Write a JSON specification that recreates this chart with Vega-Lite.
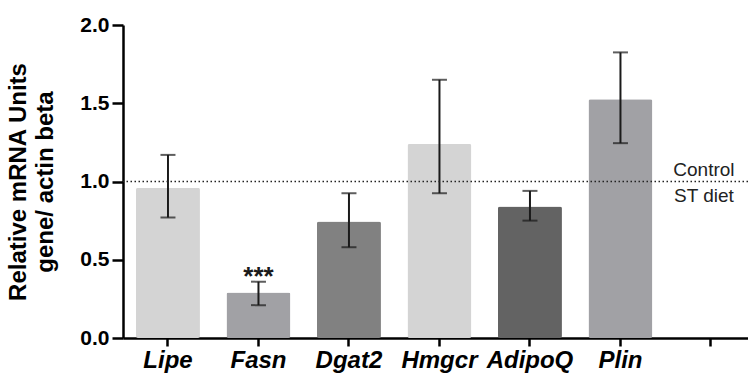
{
  "$schema": "https://vega.github.io/schema/vega-lite/v6.json",
  "width": 625,
  "height": 313,
  "autosize": {"type": "none"},
  "padding": {"left": 123, "top": 25, "right": 0, "bottom": 38},
  "background": "white",
  "config": {
    "view": {"stroke": null},
    "font": "Liberation Sans"
  },
  "data": {
    "values": [
      {"gene": "Lipe", "value": 0.96, "lo": 0.77, "hi": 1.17, "sig": ""},
      {"gene": "Fasn", "value": 0.29, "lo": 0.21, "hi": 0.36, "sig": "***"},
      {"gene": "Dgat2", "value": 0.745, "lo": 0.58, "hi": 0.925, "sig": ""},
      {"gene": "Hmgcr", "value": 1.24, "lo": 0.925, "hi": 1.65, "sig": ""},
      {"gene": "AdipoQ", "value": 0.84, "lo": 0.75, "hi": 0.94, "sig": ""},
      {"gene": "Plin", "value": 1.525, "lo": 1.245, "hi": 1.825, "sig": ""}
    ]
  },
  "encoding": {
    "x": {
      "field": "gene",
      "type": "nominal",
      "sort": null,
      "scale": {
        "domain": ["Lipe", "Fasn", "Dgat2", "Hmgcr", "AdipoQ", "Plin", " "],
        "paddingInner": 0.293,
        "paddingOuter": 0.0996,
        "align": 0.72
      },
      "axis": {
        "title": null,
        "labelAngle": 0,
        "labelFont": "Liberation Sans",
        "labelFontSize": 24,
        "labelFontWeight": "bold",
        "labelFontStyle": "italic",
        "labelColor": "black",
        "labelPadding": 2,
        "domainColor": "black",
        "domainWidth": 2.5,
        "tickColor": "black",
        "tickWidth": 2.5,
        "tickSize": 8
      }
    }
  },
  "layer": [
    {
      "mark": {"type": "bar", "cornerRadius": 2},
      "encoding": {
        "y": {
          "field": "value",
          "type": "quantitative",
          "scale": {"domain": [0, 2], "nice": false},
          "axis": {
            "title": ["Relative mRNA Units", "gene/ actin beta"],
            "titleFont": "Liberation Sans",
            "titleFontSize": 24,
            "titleFontWeight": "bold",
            "titleColor": "black",
            "titleLineHeight": 27,
            "titlePadding": 22,
            "values": [0, 0.5, 1, 1.5, 2],
            "format": ".1f",
            "grid": false,
            "labelFont": "Liberation Sans",
            "labelFontSize": 21,
            "labelFontWeight": "bold",
            "labelColor": "black",
            "labelPadding": 3,
            "domainColor": "black",
            "domainWidth": 2.5,
            "tickColor": "black",
            "tickWidth": 2.5,
            "tickSize": 11
          }
        },
        "color": {
          "field": "gene",
          "type": "nominal",
          "scale": {
            "domain": ["Lipe", "Fasn", "Dgat2", "Hmgcr", "AdipoQ", "Plin"],
            "range": ["#d4d4d4", "#a1a1a5", "#818181", "#d4d4d4", "#636363", "#a1a1a5"]
          },
          "legend": null
        }
      }
    },
    {
      "mark": {"type": "rule", "color": "#1a1a1a", "strokeWidth": 2},
      "encoding": {
        "y": {"field": "lo", "type": "quantitative"},
        "y2": {"field": "hi"}
      }
    },
    {
      "mark": {"type": "tick", "color": "#1a1a1a", "thickness": 2, "size": 15, "orient": "horizontal"},
      "encoding": {"y": {"field": "lo", "type": "quantitative"}}
    },
    {
      "mark": {"type": "tick", "color": "#1a1a1a", "thickness": 2, "size": 15, "orient": "horizontal"},
      "encoding": {"y": {"field": "hi", "type": "quantitative"}}
    },
    {
      "mark": {"type": "text", "fontSize": 26, "fontWeight": "bold", "font": "Liberation Sans", "baseline": "alphabetic", "dy": 3, "color": "#1a1a1a"},
      "encoding": {
        "y": {"field": "hi", "type": "quantitative"},
        "text": {"field": "sig"}
      }
    },
    {
      "data": {"values": [{"ref": 1}]},
      "mark": {"type": "rule", "color": "#222222", "strokeWidth": 1.5, "strokeDash": [1.5, 2.5]},
      "encoding": {"x": null, "y": {"field": "ref", "type": "quantitative"}}
    },
    {
      "data": {"values": [{"pos": " ", "ref": 1, "label": "Control"}]},
      "mark": {"type": "text", "fontSize": 19, "font": "Liberation Sans", "baseline": "bottom", "dy": -2, "dx": -7, "color": "#222222"},
      "encoding": {
        "x": {"field": "pos", "type": "nominal"},
        "y": {"field": "ref", "type": "quantitative"},
        "text": {"field": "label"}
      }
    },
    {
      "data": {"values": [{"pos": " ", "ref": 1, "label": "ST diet"}]},
      "mark": {"type": "text", "fontSize": 19, "font": "Liberation Sans", "baseline": "top", "dy": 5, "dx": -7, "color": "#222222"},
      "encoding": {
        "x": {"field": "pos", "type": "nominal"},
        "y": {"field": "ref", "type": "quantitative"},
        "text": {"field": "label"}
      }
    }
  ]
}
